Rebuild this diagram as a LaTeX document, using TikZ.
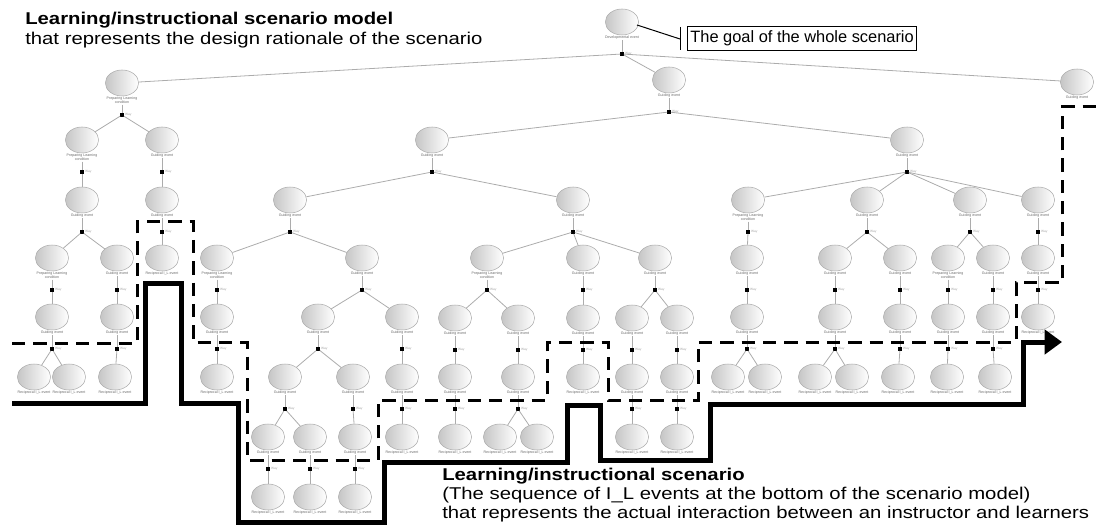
\documentclass[tikz,border=0pt]{standalone}
\usepackage{fontspec}
\setmainfont{Liberation Sans}
\usetikzlibrary{shapes.geometric,arrows.meta,positioning,calc}

\newcommand{\evG}{Guiding event}
\newcommand{\evP}{Preparing Learning\\condition}
\newcommand{\evR}{Reciprocal I\_L event}
\newcommand{\evD}{Developmental event}
\newcommand{\wide}[1]{\scalebox{1.19}[1]{#1}}
% event node + its type label
\newcommand{\ev}[4]{%
  \node[ev] (#1) at (#2,#3) {};
  \node[evlab, below=0.2pt of #1] (#1l) {#4};}
% way dot under a node, joined to its sub events
\newcommand{\way}[2]{%
  \node[way] (#1w) at ($(#1)+(0,32)$) {};
  \node[waylab, right=0.5pt of #1w] (#1wt) {Way};
  \draw[edge] (#1l) -- (#1w);
  \foreach \k in {#2} {\draw[edge] (#1w) -- (\k);}}

\begin{document}
\begin{tikzpicture}[x=0.75pt, y=-0.75pt,
	ev/.style={ellipse, draw=gray!65, line width=0.4pt, left color=gray!45, right color=white,
		minimum width=25pt, minimum height=19.5pt, inner sep=0pt},
	evlab/.style={font=\fontsize{2.7}{3}\selectfont, text=gray!80!black, inner sep=0.3pt, align=center},
	way/.style={rectangle, fill=black, minimum size=2.4pt, inner sep=0pt},
	waylab/.style={font=\fontsize{2.4}{3}\selectfont, text=gray!70, inner sep=0.3pt},
	edge/.style={draw=gray!65, line width=0.6pt},
	txt/.style={font=\fontsize{12.8}{15}\selectfont, inner sep=0pt, anchor=base west},
	dashpath/.style={line width=2.25pt, dash pattern=on 10pt off 6pt},
	flow/.style={line width=3.75pt, -{Triangle[length=13pt,width=18pt]}}]
	\useasboundingbox (0,0) rectangle (1103,527);

	% scenario model tree
	\ev{r}{622}{22}{\evD}
	\ev{a}{122}{83}{\evP}
	\ev{b}{669}{80}{\evG}
	\ev{c}{1077}{82}{\evG}
	\way{r}{a,b,c}

	\ev{a1}{82}{140}{\evP}
	\ev{a2}{162}{140}{\evG}
	\way{a}{a1,a2}
	\ev{a11}{82}{200}{\evG}
	\way{a1}{a11}
	\ev{a21}{162}{200}{\evG}
	\way{a2}{a21}
	\ev{a111}{52}{258}{\evP}
	\ev{a112}{117}{258}{\evG}
	\way{a11}{a111,a112}
	\ev{a211}{162}{258}{\evR}
	\way{a21}{a211}
	\ev{a1111}{52}{317}{\evG}
	\way{a111}{a1111}
	\ev{a1121}{117}{317}{\evG}
	\way{a112}{a1121}
	\ev{a11111}{34}{377}{\evR}
	\ev{a11112}{69}{377}{\evR}
	\way{a1111}{a11111,a11112}
	\ev{a11211}{115}{377}{\evR}
	\way{a1121}{a11211}

	\ev{b1}{432}{140}{\evG}
	\ev{b2}{907}{140}{\evG}
	\way{b}{b1,b2}
	\ev{b11}{290}{200}{\evG}
	\ev{b12}{573}{200}{\evG}
	\way{b1}{b11,b12}
	\ev{b111}{217}{258}{\evP}
	\ev{b112}{362}{258}{\evG}
	\way{b11}{b111,b112}
	\ev{b1111}{217}{317}{\evG}
	\way{b111}{b1111}
	\ev{b11111}{217}{377}{\evR}
	\way{b1111}{b11111}
	\ev{b1121}{318}{317}{\evG}
	\ev{b1122}{402}{317}{\evG}
	\way{b112}{b1121,b1122}
	\ev{m1}{285}{377}{\evG}
	\ev{m2}{353}{377}{\evG}
	\way{b1121}{m1,m2}
	\ev{m11}{268}{437}{\evG}
	\ev{m12}{310}{437}{\evG}
	\way{m1}{m11,m12}
	\ev{m21}{355}{437}{\evG}
	\way{m2}{m21}
	\ev{m111}{268}{497}{\evR}
	\way{m11}{m111}
	\ev{m121}{310}{497}{\evR}
	\way{m12}{m121}
	\ev{m211}{355}{497}{\evR}
	\way{m21}{m211}
	\ev{m3}{402}{377}{\evG}
	\way{b1122}{m3}
	\ev{m31}{402}{437}{\evR}
	\way{m3}{m31}

	\ev{b121}{487}{258}{\evP}
	\ev{b122}{583}{258}{\evG}
	\ev{b123}{655}{258}{\evG}
	\way{b12}{b121,b122,b123}
	\ev{n1}{455}{318}{\evG}
	\ev{n2}{518}{318}{\evG}
	\way{b121}{n1,n2}
	\ev{n11}{455}{377}{\evG}
	\way{n1}{n11}
	\ev{n111}{455}{437}{\evR}
	\way{n11}{n111}
	\ev{n21}{518}{377}{\evG}
	\way{n2}{n21}
	\ev{n211}{500}{437}{\evR}
	\ev{n212}{537}{437}{\evR}
	\way{n21}{n211,n212}
	\ev{n3}{583}{318}{\evG}
	\way{b122}{n3}
	\ev{n31}{583}{377}{\evR}
	\way{n3}{n31}
	\ev{n4}{632}{318}{\evG}
	\ev{n5}{677}{318}{\evG}
	\way{b123}{n4,n5}
	\ev{n41}{632}{377}{\evG}
	\way{n4}{n41}
	\ev{n411}{632}{437}{\evR}
	\way{n41}{n411}
	\ev{n51}{677}{377}{\evG}
	\way{n5}{n51}
	\ev{n511}{677}{437}{\evR}
	\way{n51}{n511}

	\ev{b21}{748}{200}{\evP}
	\ev{b22}{867}{200}{\evG}
	\ev{b23}{970}{200}{\evG}
	\ev{b24}{1038}{200}{\evG}
	\way{b2}{b21,b22,b23,b24}
	\ev{p1}{747}{258}{\evG}
	\way{b21}{p1}
	\ev{p11}{747}{317}{\evG}
	\way{p1}{p11}
	\ev{p111}{728}{377}{\evR}
	\ev{p112}{765}{377}{\evR}
	\way{p11}{p111,p112}
	\ev{p2}{835}{258}{\evG}
	\ev{p3}{900}{258}{\evG}
	\way{b22}{p2,p3}
	\ev{p21}{835}{317}{\evG}
	\way{p2}{p21}
	\ev{p211}{815}{377}{\evR}
	\ev{p212}{852}{377}{\evR}
	\way{p21}{p211,p212}
	\ev{p31}{900}{317}{\evG}
	\way{p3}{p31}
	\ev{p311}{898}{377}{\evR}
	\way{p31}{p311}
	\ev{p4}{948}{258}{\evP}
	\ev{p5}{993}{258}{\evG}
	\way{b23}{p4,p5}
	\ev{p41}{948}{317}{\evG}
	\way{p4}{p41}
	\ev{p411}{947}{377}{\evR}
	\way{p41}{p411}
	\ev{p51}{993}{317}{\evG}
	\way{p5}{p51}
	\ev{p511}{995}{377}{\evR}
	\way{p51}{p511}
	\ev{p6}{1038}{258}{\evG}
	\way{b24}{p6}
	\ev{p61}{1038}{317}{\evR}
	\way{p6}{p61}

	% goal callout
	\coordinate (goalpt) at (637,25);
	\coordinate (goaltick) at (680,39);
	\node[draw, line width=0.7pt, font=\fontsize{12.3}{14}\selectfont, anchor=west,
		inner xsep=2.2pt, inner ysep=0pt, minimum height=17.5pt] (goal) at (687,38.5) {The goal of the whole scenario};
	\draw[line width=0.75pt] (goalpt) -- (goaltick);
	\draw[line width=0.75pt] ($(goaltick)+(0,-12)$) -- ($(goaltick)+(0,11)$);

	% texts
	\node[txt] (mdlttl) at (25,25) {\wide{\bfseries Learning/instructional scenario model}};
	\node[txt] (mdlsub) at (25,45) {\wide{that represents the design rationale of the scenario}};
	\node[txt] (scnttl) at (442,480) {\wide{\bfseries Learning/instructional scenario}};
	\node[txt] (scnsub) at (442,499) {\wide{(The sequence of I\_L events at the bottom of the scenario model)}};
	\node[txt] (scnsub2) at (442,518) {\wide{that represents the actual interaction between an instructor and learners}};

	% scenario model border and scenario line
	\draw[dashpath] (12,343) -- (137,343) -- (137,222) -- (193,222) -- (193,342) -- (247,342)
		-- (247,460) -- (378,460) -- (378,400) -- (547,400) -- (547,342) -- (608,342) -- (608,400)
		-- (698,400) -- (698,342) -- (1016,342) -- (1016,283) -- (1062,283) -- (1062,107) -- (1103,107);
	\draw[flow] (12,403) -- (145,403) -- (145,284) -- (181,284) -- (181,403) -- (238,403) -- (238,522)
		-- (384,522) -- (384,462) -- (567,462) -- (567,405) -- (600,405) -- (600,460) -- (710,460)
		-- (710,404) -- (1023,404) -- (1023,342) -- (1062,342);
\end{tikzpicture}
\end{document}
